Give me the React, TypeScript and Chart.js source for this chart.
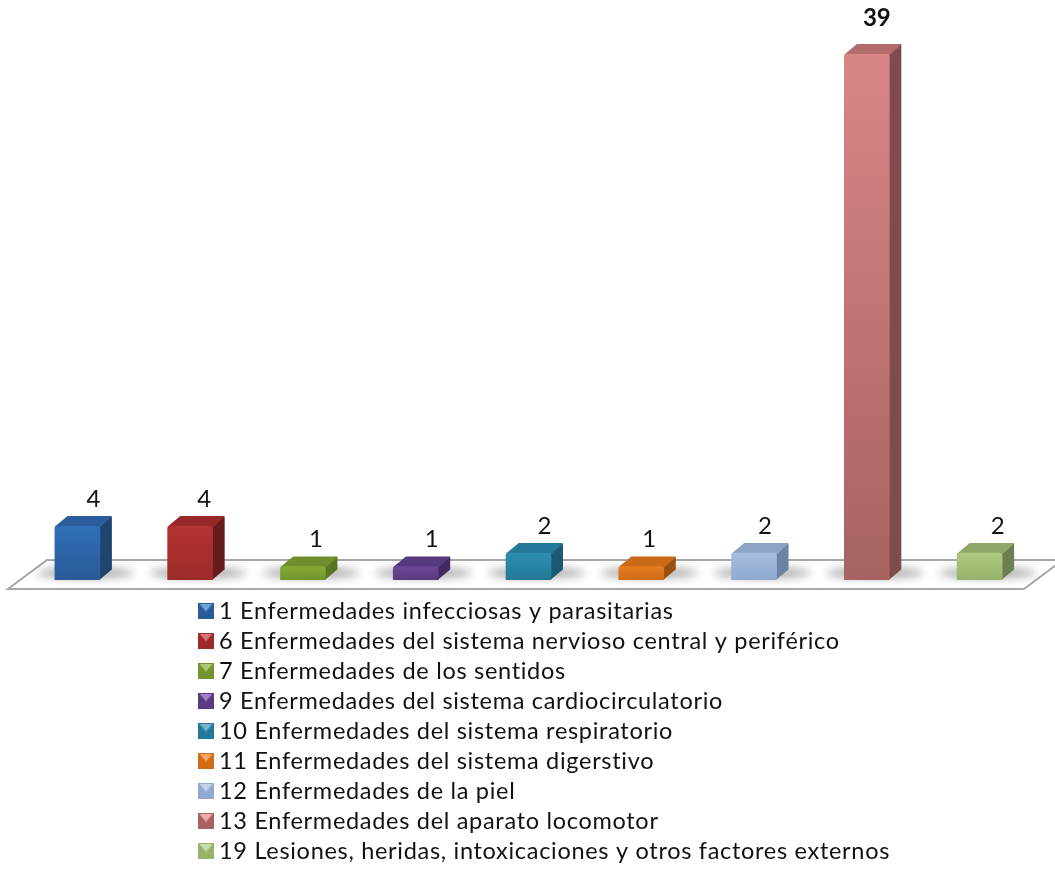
import React, { useEffect, useRef } from "react";
import { Chart, registerables } from "chart.js";

Chart.register(...registerables);

const categories = [
  "1 Enfermedades infecciosas y parasitarias",
  "6 Enfermedades del sistema nervioso central y periférico",
  "7 Enfermedades de los sentidos",
  "9 Enfermedades del sistema cardiocirculatorio",
  "10 Enfermedades del sistema respiratorio",
  "11 Enfermedades del sistema digerstivo",
  "12 Enfermedades de la piel",
  "13 Enfermedades del aparato locomotor",
  "19 Lesiones, heridas, intoxicaciones y otros factores externos",
];
const values = [4, 4, 1, 1, 2, 1, 2, 39, 2];

const frontTop = ["#3070b8", "#b53232", "#86aa34", "#6b4696", "#2b8fae", "#e67c1e", "#a4bde0", "#d98686", "#adc981"];
const frontBottom = ["#2a5a98", "#9c2a2a", "#739430", "#5a3a80", "#26789a", "#cf6c18", "#90a9cf", "#a86262", "#98b26c"];
const sideColor = ["#1f4470", "#661c1c", "#5a7524", "#422a60", "#1b5a72", "#99500f", "#6c83a6", "#7e4c4c", "#6c7f50"];
const topColor = ["#2a5c9a", "#962828", "#6f8f2c", "#573a7e", "#25789a", "#c96a18", "#8ba4c8", "#b26c6c", "#8fa868"];
const labelNudge = [16, 14, 13, 16, 16, 8, 11, 10, 18];

const FONT = "Lato, Carlito, Calibri, sans-serif";

function rr(ctx: CanvasRenderingContext2D, pts: number[][]) {
  ctx.beginPath();
  pts.forEach((p, i) => (i ? ctx.lineTo(p[0], p[1]) : ctx.moveTo(p[0], p[1])));
  ctx.closePath();
}

const scenePlugin = {
  id: "scene",
  beforeDatasetsDraw(chart: any) {
    const ctx: CanvasRenderingContext2D = chart.ctx;
    const bars = chart.getDatasetMeta(0).data;
    const base = bars[0].base;
    // floor
    ctx.save();
    ctx.strokeStyle = "#a8a8a8";
    ctx.lineWidth = 2;
    ctx.beginPath();
    ctx.moveTo(1056, base - 20);
    ctx.lineTo(47, base - 20);
    ctx.lineTo(8, base + 9);
    ctx.lineTo(1024, base + 9);
    ctx.lineTo(1056, base - 15);
    ctx.stroke();
    ctx.restore();

    const dx = 12;
    const dy = 10;
    bars.forEach((b: any, i: number) => {
      const l = b.x - b.width / 2;
      const r = b.x + b.width / 2;
      // soft floor shadow
      ctx.save();
      ctx.filter = "blur(5px)";
      ctx.fillStyle = "rgba(70,70,70,0.5)";
      ctx.beginPath();
      ctx.ellipse(b.x + 8, base - 7, b.width / 2 + 26, 5, 0, 0, Math.PI * 2);
      ctx.fill();
      ctx.restore();
      ctx.save();
      ctx.lineJoin = "round";
      ctx.lineWidth = 2;
      // right side
      ctx.fillStyle = ctx.strokeStyle = sideColor[i];
      rr(ctx, [[r - 1, b.y + 1], [r + dx - 1, b.y - dy + 1], [r + dx - 1, base - dy - 1], [r - 1, base - 1]]);
      ctx.fill();
      ctx.stroke();
      // top face
      ctx.fillStyle = ctx.strokeStyle = topColor[i];
      rr(ctx, [[l + 1, b.y + 1], [l + dx + 1, b.y - dy + 1], [r + dx - 2, b.y - dy + 1], [r - 1, b.y + 1]]);
      ctx.fill();
      ctx.stroke();
      ctx.restore();
    });
  },
  afterDatasetsDraw(chart: any) {
    const ctx: CanvasRenderingContext2D = chart.ctx;
    const bars = chart.getDatasetMeta(0).data;
    const maxV = Math.max(...values);
    ctx.save();
    ctx.fillStyle = "#111";
    ctx.textAlign = "center";
    ctx.textBaseline = "middle";
    bars.forEach((b: any, i: number) => {
      const big = values[i] === maxV;
      ctx.font = `${big ? "bold " : ""}24px ${FONT}`;
      ctx.fillText(String(values[i]), b.x + labelNudge[i], b.y - (big ? 36 : 27));
    });

    // legend
    ctx.textAlign = "left";
    ctx.font = `23.5px ${FONT}`;
    (ctx as any).letterSpacing = "0.7px";
    categories.forEach((c, i) => {
      const y = 611 + i * 30;
      const x = 198;
      const s = 16;
      ctx.fillStyle = frontBottom[i];
      ctx.fillRect(x, y - s / 2, s, s);
      ctx.fillStyle = frontTop[i];
      rr(ctx, [[x + 1, y - s / 2 + 1], [x + s - 1, y - s / 2 + 1], [x + s / 2, y + 2]]);
      ctx.fill();
      ctx.globalAlpha = 0.35;
      ctx.fillStyle = "#fff";
      rr(ctx, [[x + 2, y - s / 2 + 1], [x + s - 2, y - s / 2 + 1], [x + s / 2, y]]);
      ctx.fill();
      ctx.globalAlpha = 1;
      ctx.fillStyle = "#111";
      ctx.fillText(c, x + 21, y);
    });
    ctx.restore();
  },
};

export default function App() {
  const ref = useRef<HTMLCanvasElement>(null);
  useEffect(() => {
    const chart = new Chart(ref.current as HTMLCanvasElement, {
      type: "bar",
      data: {
        labels: categories,
        datasets: [
          {
            data: values,
            barThickness: 45,
            borderRadius: 3,
            backgroundColor: (c: any) => {
              const i = c.dataIndex;
              const sc = c.chart.scales?.y;
              if (!sc || i === undefined) return frontTop[i ?? 0];
              const y0 = sc.getPixelForValue(values[i]);
              const y1 = sc.getPixelForValue(0);
              if (!Number.isFinite(y0) || !Number.isFinite(y1)) return frontTop[i];
              const g = c.chart.ctx.createLinearGradient(0, y0, 0, y1);
              g.addColorStop(0, frontTop[i]);
              g.addColorStop(1, frontBottom[i]);
              return g;
            },
          },
        ],
      },
      options: {
        responsive: false,
        animation: false,
        layout: { padding: { left: 21, right: 19, top: 54, bottom: 289 } },
        plugins: { legend: { display: false }, tooltip: { enabled: false } },
        scales: {
          x: { display: false },
          y: { display: false, min: 0, max: 39 },
        },
      },
      plugins: [scenePlugin],
    } as any);
    return () => chart.destroy();
  }, []);
  return (
    <canvas
      ref={ref}
      width={1055}
      height={869}
      style={{ position: "absolute", left: 0, top: 0, display: "block", filter: "blur(0.4px)" }}
    />
  );
}
